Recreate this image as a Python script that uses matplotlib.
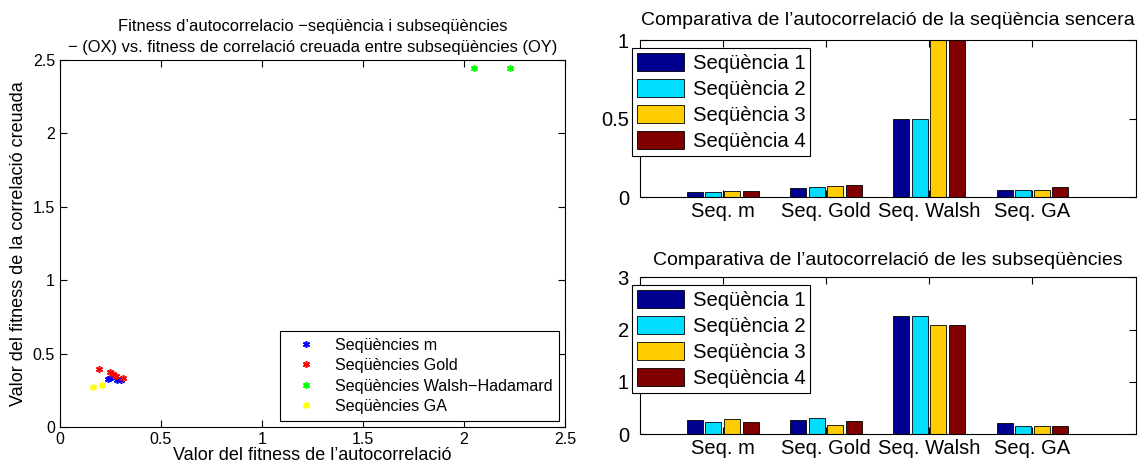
import matplotlib
matplotlib.use('Agg')
import matplotlib.pyplot as plt
import numpy as np

plt.rcParams['font.family'] = ['Liberation Sans', 'DejaVu Sans']

# scatter data (autocorrelation fitness vs cross-correlation fitness)
m_x = [0.236, 0.25, 0.284, 0.30]
m_y = [0.327, 0.335, 0.32, 0.318]
gold_x = [0.193, 0.248, 0.264, 0.275, 0.313]
gold_y = [0.395, 0.372, 0.359, 0.35, 0.332]
walsh_x = [2.05, 2.228]
walsh_y = [2.448, 2.448]
ga_x = [0.163, 0.21]
ga_y = [0.275, 0.288]

# bar data
categorias = ['Seq. m', 'Seq. Gold', 'Seq. Walsh', 'Seq. GA']
seqs = ['Seqüència 1', 'Seqüència 2', 'Seqüència 3', 'Seqüència 4']
auto_sencera = np.array([
    [0.032, 0.030, 0.038, 0.038],
    [0.055, 0.062, 0.070, 0.078],
    [0.495, 0.495, 1.5, 1.5],
    [0.047, 0.047, 0.047, 0.062],
])
auto_subseq = np.array([
    [0.28, 0.23, 0.30, 0.23],
    [0.28, 0.32, 0.19, 0.26],
    [2.25, 2.25, 2.08, 2.08],
    [0.215, 0.17, 0.17, 0.17],
])
colors = ['#000090', '#00DDFF', '#FFCC00', '#800000']

fig = plt.figure(figsize=(11.38, 4.63), dpi=100)

# left scatter
ax = fig.add_axes([0.0527, 0.0778, 0.4438, 0.7926])
star = (6, 2, 0)
kw = dict(linestyle='none', marker=star, markersize=5, mew=1.1)
ax.plot(m_x, m_y, color='blue', label='Seqüències m', **kw)
ax.plot(gold_x, gold_y, color='red', label='Seqüències Gold', **kw)
ax.plot(walsh_x, walsh_y, color='#00FF00', label='Seqüències Walsh\u2212Hadamard', **kw)
ax.plot(ga_x, ga_y, color='yellow', label='Seqüències GA', **kw)
ax.set_xlim(0, 2.5)
ax.set_ylim(0, 2.5)
ax.set_xticks([0, 0.5, 1, 1.5, 2, 2.5])
ax.set_xticklabels(['0', '0.5', '1', '1.5', '2', '2.5'])
ax.set_yticks([0, 0.5, 1, 1.5, 2, 2.5])
ax.set_yticklabels(['0', '0.5', '1', '1.5', '2', '2.5'])
ax.tick_params(direction='in', top=True, right=True, labelsize=11.5, length=5)
ax.set_title("Fitness d\u2019autocorrelacio \u2212seqüència i subseqüències\n\u2212 (OX) vs. fitness de correlació creuada entre subseqüències (OY)",
             fontsize=11.9, linespacing=1.45, pad=6)
ax.set_xlabel("Valor del fitness de l\u2019autocorrelació", fontsize=13, labelpad=0)
ax.set_ylabel("Valor del fitness de la correlació creuada", fontsize=13, labelpad=4)
leg = ax.legend(loc='lower right', fontsize=11.6, fancybox=False, edgecolor='black',
                framealpha=1, borderaxespad=0.4, handlelength=2.4, handletextpad=0.6,
                labelspacing=0.34, borderpad=0.4)
leg.get_frame().set_linewidth(0.8)

# right bar charts
x = np.arange(1, len(categorias) + 1)
offsets = [-0.27, -0.09, 0.09, 0.27]
width = 0.155


def barras(rect, dades, titol, ylim, yticks, tpad):
    a = fig.add_axes(rect)
    for i in range(4):
        a.bar(x + offsets[i], dades[:, i], width=width, color=colors[i],
              edgecolor='black', linewidth=0.6, label=seqs[i])
    a.set_xlim(0.2, 5.0)
    a.set_ylim(*ylim)
    a.set_xticks(x)
    a.set_xticklabels(categorias)
    a.set_yticks(yticks)
    a.set_yticklabels([('%g' % t) for t in yticks])
    a.tick_params(direction='in', top=True, right=True, labelsize=14.5, length=5)
    a.tick_params(axis='y', pad=8)
    a.set_title(titol, fontsize=14, pad=tpad)
    lg = a.legend(loc='upper left', bbox_to_anchor=(-0.016, 0.952), fontsize=14.6,
                  fancybox=False, edgecolor='black', framealpha=1, borderaxespad=0,
                  handlelength=2.33, handleheight=1.05, handletextpad=0.4,
                  labelspacing=0.28, borderpad=0.25)
    lg.get_frame().set_linewidth(0.8)
    return a


barras([0.5624, 0.5745, 0.4356, 0.3391], auto_sencera,
       "Comparativa de l\u2019autocorrelació de la seqüència sencera", (0, 1), [0, 0.5, 1], 10.5)
barras([0.5624, 0.0616, 0.4356, 0.3401], auto_subseq,
       "Comparativa de l\u2019autocorrelació de les subseqüències", (0, 3), [0, 1, 2, 3], 9)

fig.savefig('out.png', dpi=100)
